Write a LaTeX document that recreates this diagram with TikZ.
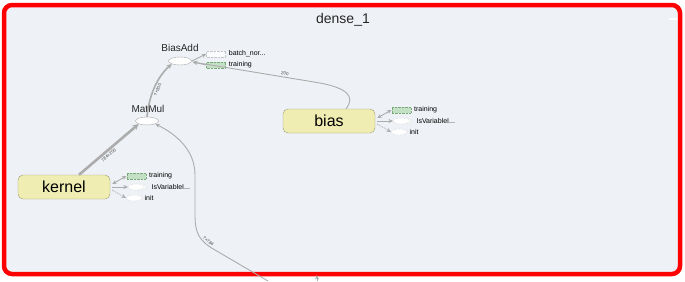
\documentclass[tikz,border=0pt]{standalone}
\usepackage{fontspec}
\setmainfont{Liberation Sans}
\usetikzlibrary{shapes.geometric,arrows.meta}
\definecolor{panel}{RGB}{238,241,246}
\definecolor{flowgray}{RGB}{172,172,172}
\definecolor{varfill}{RGB}{240,237,178}
\definecolor{vardraw}{RGB}{158,158,112}
\definecolor{trainfill}{RGB}{196,224,196}
\definecolor{traindraw}{RGB}{120,170,120}
\begin{document}
\begin{tikzpicture}[x=1pt,y=-1pt,>={Stealth[length=4.5pt,width=4pt]},
  flow/.style={draw=flowgray,line width=0.9pt},
  varbox/.style={draw=vardraw,fill=varfill,rounded corners=5pt,minimum width=92pt,minimum height=24pt,inner sep=0pt,font=\fontsize{16}{18}\selectfont},
  opnode/.style={ellipse,draw=gray!70,fill=white,minimum width=23pt,minimum height=8pt,inner sep=0pt},
  opname/.style={font=\fontsize{10}{12}\selectfont,text=black!85},
  auxrect/.style={draw=traindraw,densely dotted,fill=trainfill,minimum width=19pt,minimum height=6pt,inner sep=0pt},
  auxell/.style={ellipse,draw=gray!50,densely dotted,fill=white,minimum width=16pt,minimum height=6pt,inner sep=0pt},
  auxname/.style={anchor=west,font=\fontsize{7}{8}\selectfont,inner sep=0pt},
  dimlab/.style={font=\fontsize{4.5}{5}\selectfont,sloped,text=black!70,inner sep=1.5pt}]
  % frame
  \fill[white] (0,0) rectangle (685,279);
  \draw[red,line width=4.5pt,fill=panel,rounded corners=8pt] (4,5) rectangle (680,274);
  \draw[white,line width=1.5pt] (669,19) -- (677,19);
  \node[font=\fontsize{14}{16}\selectfont,text=black!85] (title) at (343,20) {dense\_1};
  % variables and ops
  \node[varbox] (kernel) at (64,187) {kernel};
  \node[varbox] (bias) at (329,121) {bias};
  \node[opnode] (biasadd) at (180,61) {};
  \node[opname] (biasaddlab) at (180,48) {BiasAdd};
  \node[opnode] (matmul) at (147,121) {};
  \node[opname] (matmullab) at (148,109) {MatMul};
  % auxiliary nodes next to the variables
  \foreach \v in {kernel,bias} {
    \node[auxrect] (\v train) at ([shift={(26,-11)}]\v.east) {};
    \node[auxname] at ([shift={(3,0)}]\v train.east) {training};
    \node[auxell,minimum width=12pt] at ([shift={(30,0)}]\v.east) {};
    \node[auxell] (\v isvar) at ([shift={(26,0)}]\v.east) {};
    \node[auxname] at ([shift={(7,0)}]\v isvar.east) {IsVariableI...};
    \node[auxell] (\v init) at ([shift={(24,11)}]\v.east) {};
    \node[auxname] at ([shift={(2,0)}]\v init.east) {init};
    \draw[flow,<->] ([shift={(2,-3)}]\v.east) -- (\v train.west);
    \draw[flow,->] ([shift={(2,0)}]\v.east) -- (\v isvar.west);
    \draw[flow,->,densely dotted] ([shift={(2,3)}]\v.east) -- (\v init.west);
  }
  % auxiliary nodes next to BiasAdd
  \node[auxrect,draw=gray!45,fill=white!70!panel] (baddbatch) at (216,54) {};
  \node[auxname] at ([shift={(3,0)}]baddbatch.east) {batch\_nor...};
  \node[auxrect] (baddtrain) at (216,65) {};
  \node[auxname] at ([shift={(3,0)}]baddtrain.east) {training};
  \draw[flow,->] (biasadd.east) -- (baddbatch.west);
  \draw[flow,->] (baddtrain.west) -- ([shift={(1,1)}]biasadd.east);
  % data edges
  \draw[flow,line width=2.6pt,-{Stealth[length=6pt,width=6pt]}] ([xshift=15pt]kernel.north) -- (matmul.south west)
    node[dimlab,pos=0.45,below] {784×200};
  \draw[flow,line width=1.6pt,-{Stealth[length=5pt,width=5pt]}] (matmul.north) .. controls (149,97) and (156,78) .. (biasadd.south west)
    node[dimlab,pos=0.5,below] {?×200};
  \draw[flow,->] ([xshift=17pt]bias.north) .. controls (356,96) and (346,88) .. (320,83) -- ([shift={(1,1)}]biasadd.east)
    node[dimlab,pos=0.28,above] {200};
  \coordinate (inbot) at (268,281);
  \draw[flow,->] (inbot) -- (215,250)
    .. controls (199,241) and (195,233) .. node[dimlab,pos=0.22,above] {?×784} (195,215) -- (195,175)
    .. controls (195,150) and (176,134) .. (matmul.south east);
  \coordinate (outbot) at (317,281);
  \draw[flow,->] (outbot) -- (317,275);
\end{tikzpicture}
\end{document}
